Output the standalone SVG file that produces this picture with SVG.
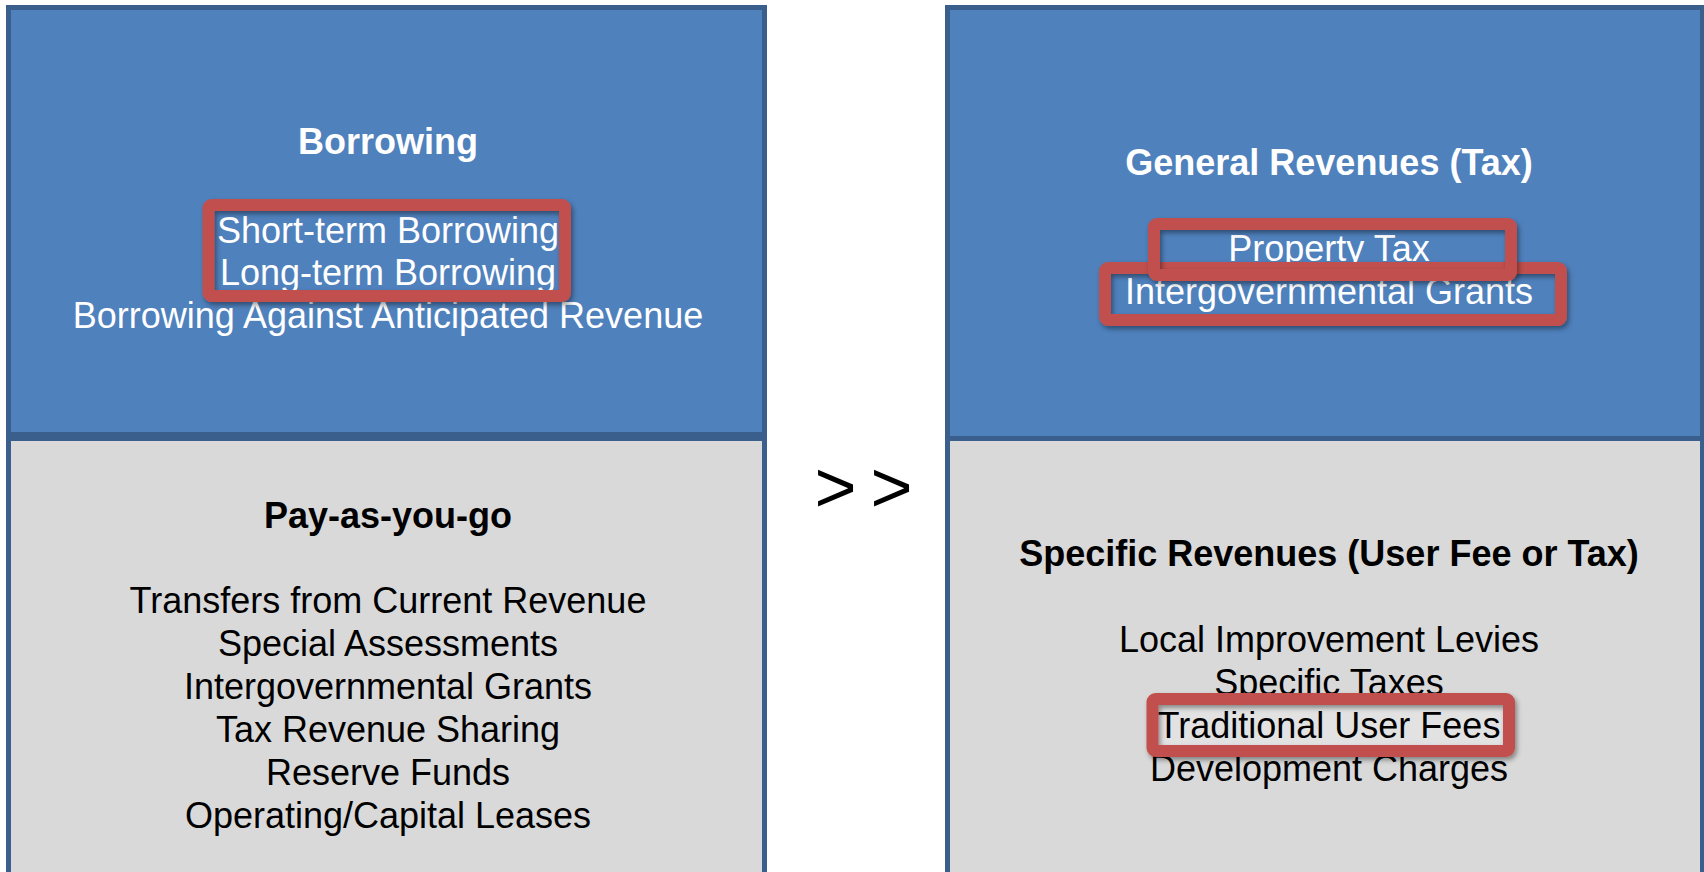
<svg xmlns="http://www.w3.org/2000/svg" width="1704" height="872" viewBox="0 0 1704 872">
  <defs>
    <filter id="dropShadow" x="-10%" y="-20%" width="130%" height="160%">
      <feDropShadow dx="2" dy="3" stdDeviation="2.5" flood-color="#000" flood-opacity="0.4"/>
    </filter>
  </defs>
  <style>
    .blue { fill: #4f81bd; stroke: #3a5f8c; stroke-width: 5; }
    .gray { fill: #d9d9d9; stroke: #3a5f8c; stroke-width: 5; }
    .hl { fill: none; stroke: #c0504d; stroke-width: 12; stroke-linejoin: round; filter: url(#dropShadow); }
    text { font-family: "Liberation Sans", Arial, sans-serif; font-size: 36px; text-anchor: middle; }
    .title { font-weight: bold; }
    .w { fill: #ffffff; }
    .k { fill: #000000; }
  </style>

  <rect width="1704" height="872" fill="#ffffff"/>

  <!-- Left column, upper block: borrowing -->
  <g id="borrowing">
    <rect class="blue" x="8.5" y="7.5" width="756" height="427"/>
    <text class="title w" x="388" y="154">Borrowing</text>
    <text class="w" x="388" y="243">Short-term Borrowing</text>
    <text class="w" x="388" y="285">Long-term Borrowing</text>
    <text class="w" x="388" y="328">Borrowing Against Anticipated Revenue</text>
    <rect class="hl" x="208.5" y="205" width="356.5" height="91" rx="3"/>
  </g>

  <!-- Left column, lower block: pay-as-you-go -->
  <g id="pay-as-you-go">
    <rect class="gray" x="8.5" y="438.5" width="756" height="440"/>
    <text class="title k" x="388" y="528">Pay-as-you-go</text>
    <text class="k" x="388" y="613">Transfers from Current Revenue</text>
    <text class="k" x="388" y="656">Special Assessments</text>
    <text class="k" x="388" y="699">Intergovernmental Grants</text>
    <text class="k" x="388" y="742">Tax Revenue Sharing</text>
    <text class="k" x="388" y="785">Reserve Funds</text>
    <text class="k" x="388" y="828">Operating/Capital Leases</text>
  </g>

  <!-- Comparison sign between the columns -->
  <g id="comparison">
    <text class="k" x="835.5" y="512" style="font-size:72px">&gt;</text>
    <text class="k" x="891.5" y="512" style="font-size:72px">&gt;</text>
  </g>

  <!-- Right column, upper block: general revenues -->
  <g id="general-revenues">
    <rect class="blue" x="947.5" y="7.5" width="755" height="431"/>
    <text class="title w" x="1329" y="175">General Revenues (Tax)</text>
    <text class="w" x="1329" y="261">Property Tax</text>
    <text class="w" x="1329" y="304">Intergovernmental Grants</text>
    <rect class="hl" x="1105" y="268" width="456" height="52" rx="3"/>
    <rect class="hl" x="1154" y="224" width="357" height="51" rx="3"/>
  </g>

  <!-- Right column, lower block: specific revenues -->
  <g id="specific-revenues">
    <rect class="gray" x="947.5" y="438.5" width="755" height="440"/>
    <text class="title k" x="1329" y="566">Specific Revenues (User Fee or Tax)</text>
    <text class="k" x="1329" y="652">Local Improvement Levies</text>
    <text class="k" x="1329" y="695">Specific Taxes</text>
    <rect x="1158" y="705" width="345" height="40" fill="#e2e2e2"/>
    <text class="k" x="1329" y="738">Traditional User Fees</text>
    <text class="k" x="1329" y="781">Development Charges</text>
    <rect class="hl" x="1152.5" y="699" width="356.5" height="52" rx="3"/>
  </g>
</svg>
